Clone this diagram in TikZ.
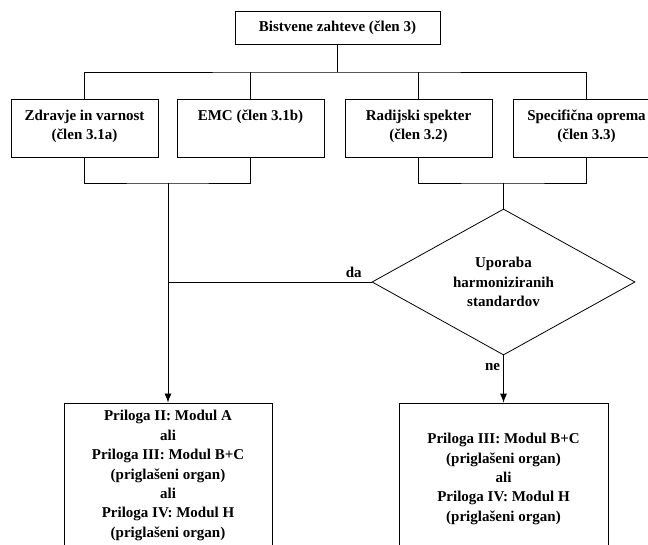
\documentclass[tikz,border=0pt]{standalone}
\usepackage{fontspec}
\setmainfont{Liberation Serif}
\usepackage{tikz}
\usetikzlibrary{%
  arrows.meta,%
  shapes.geometric%
}
\tikzset{>={Latex[length=9pt,width=7pt]}}
\tikzset{txt/.style = {font=\fontsize{15}{19.4}\selectfont\bfseries},
  box/.style = {draw, inner xsep=0pt, inner ysep=7.5pt},
  decision/.style = {draw, diamond, aspect=1.8, minimum width=263pt,
    minimum height=146pt, inner sep=0pt, align=center},
  answer/.style = {inner sep=3pt}}
\newcommand{\celltext}[2]{\parbox[c][43pt][t]{#1}{\centering\strut #2}}

\begin{document}
\begin{tikzpicture}[x=1pt,y=-1pt,line width=0.8pt,every node/.style={txt}]
  \useasboundingbox (0,0) rectangle (648,544);
  \clip (0,0) rectangle (648,544);
  \node[box, minimum width=205pt, minimum height=33pt, inner ysep=0pt] (top) at (337.5,27.5) {Bistvene zahteve (člen 3)};
  \node[box] (zdr) at (84.5,128) {\celltext{147pt}{Zdravje in varnost\\(člen 3.1a)}};
  \node[box] (emc) at (250.5,128) {\celltext{147pt}{EMC (člen 3.1b)}};
  \node[box] (rad) at (418.5,128) {\celltext{147pt}{Radijski spekter\\(člen 3.2)}};
  \node[box] (spec) at (586.5,128) {\celltext{147pt}{Specifična oprema\\(člen 3.3)}};
  \node[decision] (dec) at (503.5,282) {Uporaba\\harmoniziranih\\standardov};
  \node[box, minimum width=208pt, minimum height=145pt, align=center] (bl) at (168,475.5)
    {Priloga II: Modul A\\ali\\Priloga III: Modul B+C\\(priglašeni organ)\\ali\\Priloga IV: Modul H\\(priglašeni organ)};
  \node[box, minimum width=209pt, minimum height=152pt, align=center] (br) at (503.5,479)
    {Priloga III: Modul B+C\\(priglašeni organ)\\ali\\Priloga IV: Modul H\\(priglašeni organ)};

  \coordinate (jt) at (337.5,72);
  \coordinate (jl) at (168,183);
  \coordinate (jr) at (503.5,183);
  \draw (top) -- (jt);
  \draw (zdr.north) |- (jt) -| (spec.north);
  \draw (emc.north) -- (emc.north |- jt);
  \draw (rad.north) -- (rad.north |- jt);
  \draw (zdr.south) |- (jl) -| (emc.south);
  \draw (rad.south) |- (jr) -| (spec.south);
  \draw (jr) -- (dec.north);
  \draw[->] (jl) -- (bl.north);
  \draw (dec.west) -- node[answer, pos=0, anchor=south east, xshift=-6.5pt, yshift=1pt] {da} (dec.west -| jl);
  \draw[->] (dec.south) -- node[answer, pos=0, anchor=north east, yshift=-4.5pt] {ne} (br.north);
\end{tikzpicture}
\end{document}
